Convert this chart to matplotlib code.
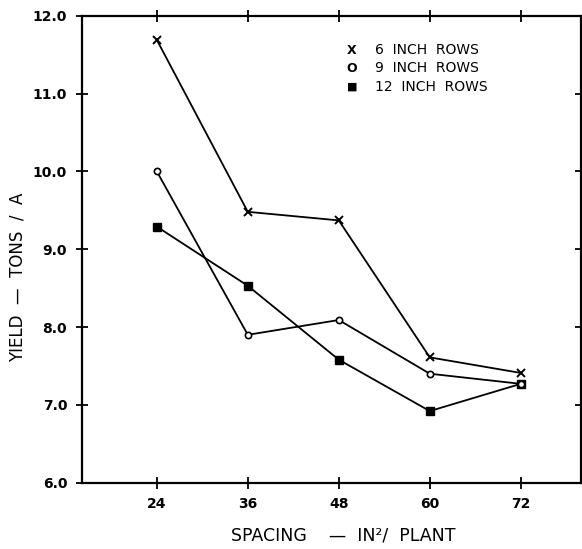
import matplotlib
matplotlib.use("Agg")
import matplotlib.pyplot as plt

spacing = [24, 36, 48, 60, 72]
rows_6 = [11.69, 9.48, 9.37, 7.61, 7.41]
rows_9 = [10.00, 7.90, 8.09, 7.40, 7.27]
rows_12 = [9.29, 8.53, 7.58, 6.92, 7.27]
legend_labels = ["6  INCH  ROWS", "9  INCH  ROWS", "12  INCH  ROWS"]
legend_symbols = ["X", "O", "\u25A0"]
yticks = [6.0, 7.0, 8.0, 9.0, 10.0, 11.0, 12.0]

plt.rcParams['font.family'] = ['DejaVu Sans']
fig = plt.figure(figsize=(5.82, 5.49), dpi=100)
ax = fig.add_axes([0.1404, 0.1208, 0.8574, 0.8506])

lw = 1.3
ax.plot(spacing, rows_6, color='black', lw=lw, marker='x', ms=6, mew=1.4, zorder=3)
ax.plot(spacing, rows_12, color='black', lw=lw, marker='s', ms=5.5, mfc='black', zorder=3)
ax.plot(spacing, rows_9, color='black', lw=lw, marker='o', ms=4.5, mfc='white', mew=1.2, zorder=4)

ax.set_xlim(14.1, 79.9)
ax.set_ylim(6.0, 12.0)
ax.set_xticks(spacing)
ax.set_xticklabels([str(s) for s in spacing], fontsize=10, fontweight='bold')
ax.set_yticks(yticks)
ax.set_yticklabels([f"{v:.1f}" for v in yticks], fontsize=10, fontweight='bold')
ax.tick_params(direction='inout', length=9, width=1.3, pad=6, top=True, right=True)
for s in ax.spines.values():
    s.set_linewidth(1.6)

ys = [50, 68, 87]
for sym, lab, y in zip(legend_symbols, legend_labels, ys):
    fig.text(352 / 582, 1 - y / 549, sym, fontsize=9 if sym != "\u25A0" else 8,
             ha='center', va='center', fontweight='bold')
    fig.text(375 / 582, 1 - y / 549, lab, fontsize=10, ha='left', va='center')

fig.text(18 / 582, 1 - 277 / 549, "YIELD  \u2014  TONS  /  A", rotation=90,
         fontsize=12, ha='center', va='center')
fig.text(343 / 582, 1 - 535 / 549, "SPACING    \u2014  IN\u00b2/  PLANT",
         fontsize=12.5, ha='center', va='center')

fig.savefig("out.png", dpi=100)
